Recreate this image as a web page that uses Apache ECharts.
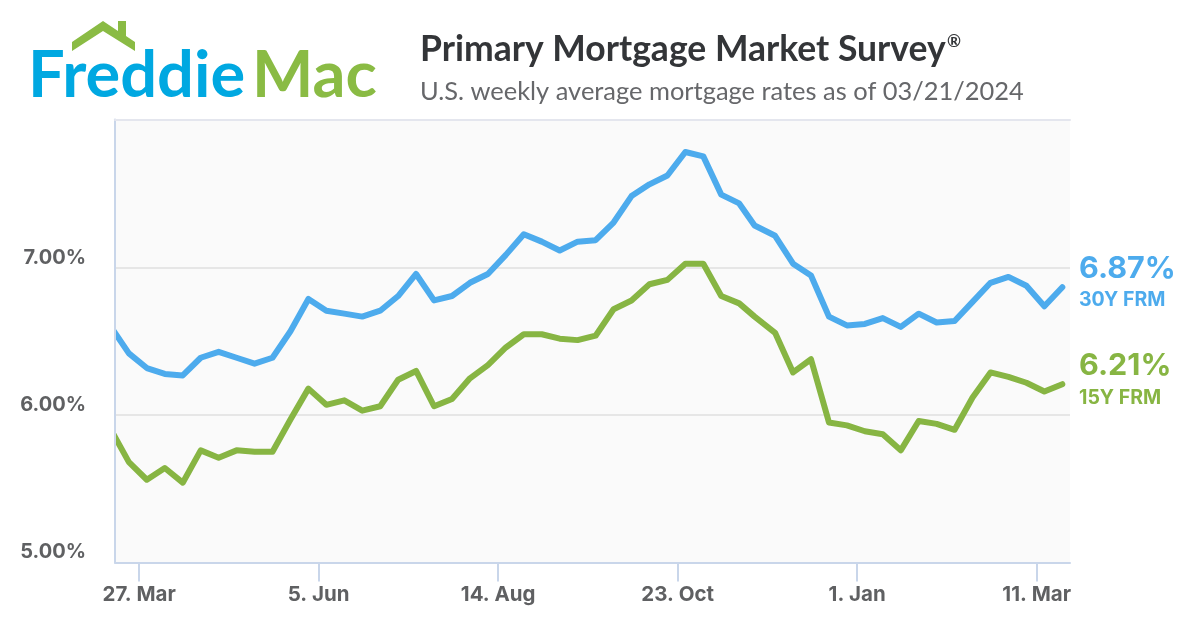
<!DOCTYPE html>
<html>
<head>
<meta charset="utf-8">
<style>
  html, body { margin: 0; padding: 0; background: #fff; }
  #chart { width: 1200px; height: 630px; }
</style>
<script src="https://cdn.jsdelivr.net/npm/echarts@6/dist/echarts.min.js"></script>
</head>
<body>
<div id="chart"></div>
<script>
const dates = ["2023-03-16","2023-03-23","2023-03-30","2023-04-06","2023-04-13","2023-04-20","2023-04-27","2023-05-04","2023-05-11","2023-05-18","2023-05-25","2023-06-01","2023-06-08","2023-06-15","2023-06-22","2023-06-29","2023-07-06","2023-07-13","2023-07-20","2023-07-27","2023-08-03","2023-08-10","2023-08-17","2023-08-24","2023-08-31","2023-09-07","2023-09-14","2023-09-21","2023-09-28","2023-10-05","2023-10-12","2023-10-19","2023-10-26","2023-11-02","2023-11-09","2023-11-16","2023-11-22","2023-11-30","2023-12-07","2023-12-14","2023-12-21","2023-12-28","2024-01-04","2024-01-11","2024-01-18","2024-01-25","2024-02-01","2024-02-08","2024-02-15","2024-02-22","2024-02-29","2024-03-07","2024-03-14","2024-03-21"]
const rate30 = [6.60,6.42,6.32,6.28,6.27,6.39,6.43,6.39,6.35,6.39,6.57,6.79,6.71,6.69,6.67,6.71,6.81,6.96,6.78,6.81,6.90,6.96,7.09,7.23,7.18,7.12,7.18,7.19,7.31,7.49,7.57,7.63,7.79,7.76,7.50,7.44,7.29,7.22,7.03,6.95,6.67,6.61,6.62,6.66,6.60,6.69,6.63,6.64,6.77,6.90,6.94,6.88,6.74,6.87]
const rate15 = [5.90,5.68,5.56,5.64,5.54,5.76,5.71,5.76,5.75,5.75,5.97,6.18,6.07,6.10,6.03,6.06,6.24,6.30,6.06,6.11,6.25,6.34,6.46,6.55,6.55,6.52,6.51,6.54,6.72,6.78,6.89,6.92,7.03,7.03,6.81,6.76,6.67,6.56,6.29,6.38,5.95,5.93,5.89,5.87,5.76,5.96,5.94,5.90,6.12,6.29,6.26,6.22,6.16,6.21]
const xTicks = ["2023-03-27","2023-06-05","2023-08-14","2023-10-23","2024-01-01","2024-03-11"]
const xTickLabels = ["27. Mar","5. Jun","14. Aug","23. Oct","1. Jan","11. Mar"]
const yTicks = [5, 6, 7]

const BLUE = "#4dabed"
const GREEN = "#87b543"
const GREY = "#5f6062"
const AXIS = "#c9d6ea"
const FONT = "Inter"

const toTime = (d) => new Date(d + "T00:00:00").getTime()
const tickTimes = xTicks.map(toTime)
const xMin = new Date("2023-03-17T14:00:00").getTime()
const xMax = new Date("2024-03-24T00:00:00").getTime()
const pairs = (values) => dates.map((d, i) => [toTime(d), values[i]])

const chart = echarts.init(document.getElementById("chart"), null, { renderer: "canvas" })

const option = {
  animation: false,
  backgroundColor: "#fff",
  grid: {
    left: 115, right: 130, top: 119.5, bottom: 67.5,
    show: true, backgroundColor: "#fafafa", borderWidth: 0,
  },
  xAxis: [
    {
      type: "value",
      min: xMin,
      max: xMax,
      axisLine: { show: true, onZero: false, lineStyle: { color: AXIS, width: 2 } },
      axisTick: { show: true, length: 19, customValues: tickTimes, lineStyle: { color: AXIS, width: 2 } },
      axisLabel: {
        customValues: tickTimes,
        hideOverlap: false,
        margin: 22,
        color: GREY,
        fontFamily: FONT,
        fontWeight: "bold",
        fontSize: 20.5,
        formatter: (v) => xTickLabels[tickTimes.indexOf(v)],
      },
      splitLine: { show: false },
    },
    {
      type: "value",
      position: "top",
      min: xMin,
      max: xMax,
      axisLine: { show: true, onZero: false, lineStyle: { color: "#e4e6ee", width: 2 } },
      axisTick: { show: false },
      axisLabel: { show: false },
      splitLine: { show: false },
    },
  ],
  yAxis: {
    type: "value",
    min: 4.997,
    max: 8.011,
    axisLine: { show: true, onZero: false, lineStyle: { color: AXIS, width: 2 } },
    axisTick: { show: false, customValues: yTicks },
    axisLabel: {
      customValues: yTicks,
      margin: 29,
      color: GREY,
      fontFamily: FONT,
      fontWeight: "bold",
      fontSize: 20,
      verticalAlign: "bottom",
      formatter: (v) => v.toFixed(2) + "%",
    },
    splitLine: { show: true, showMinLine: false, lineStyle: { color: "#e6e6e6", width: 2 } },
  },
  series: [
    {
      type: "line", name: "30Y FRM", data: pairs(rate30), showSymbol: false, symbol: "none", clip: true,
      lineStyle: { color: BLUE, width: 6, cap: "round", join: "round" },
    },
    {
      type: "line", name: "15Y FRM", data: pairs(rate15), showSymbol: false, symbol: "none", clip: true,
      lineStyle: { color: GREEN, width: 6, cap: "round", join: "round" },
    },
  ],
  graphic: [
    // the series clip box is a little wider than the plot, hide the overhang
    { type: "rect", z: 10, shape: { x: 104, y: 300, width: 10, height: 150 }, style: { fill: "#fff" } },
    { type: "rect", z: 10, shape: { x: 114, y: 300, width: 2, height: 150 }, style: { fill: AXIS } },
    // logo
    { type: "polygon", shape: { points: [[72,42],[103,21],[118,31],[118,21],[126,21],[126,36],[135,42],[135,51],[103,31],[72,51]] }, style: { fill: "#8abb44" } },
    { type: "text", left: 28, top: 44, style: { text: "Freddie", fill: "#00a8e1", font: "bold 65px Lato" } },
    { type: "text", left: 252, top: 44, style: { text: "Mac", fill: "#8abb44", font: "bold 65px Lato" } },
    // title
    { type: "text", left: 420, top: 32, style: { text: "Primary Mortgage Market Survey", fill: "#333538", font: "bold 35.5px Lato" } },
    { type: "text", left: 947, top: 33, style: { text: "®", fill: "#333538", font: "bold 17px Lato" } },
    { type: "text", left: 420, top: 79, style: { text: "U.S. weekly average mortgage rates as of 03/21/2024", fill: "#66676a", font: "25.45px Lato" } },
    // last values
    { type: "text", left: 1079, top: 253, style: { text: rate30[rate30.length - 1].toFixed(2) + "%", fill: BLUE, font: "bold 30.5px Inter" } },
    { type: "text", left: 1079, top: 290, style: { text: "30Y FRM", fill: BLUE, font: "bold 19.5px Inter" } },
    { type: "text", left: 1079, top: 350, style: { text: rate15[rate15.length - 1].toFixed(2) + "%", fill: GREEN, font: "bold 30.5px Inter" } },
    { type: "text", left: 1079, top: 388, style: { text: "15Y FRM", fill: GREEN, font: "bold 19.5px Inter" } },
  ],
}
chart.setOption(option)
</script>
</body>
</html>
